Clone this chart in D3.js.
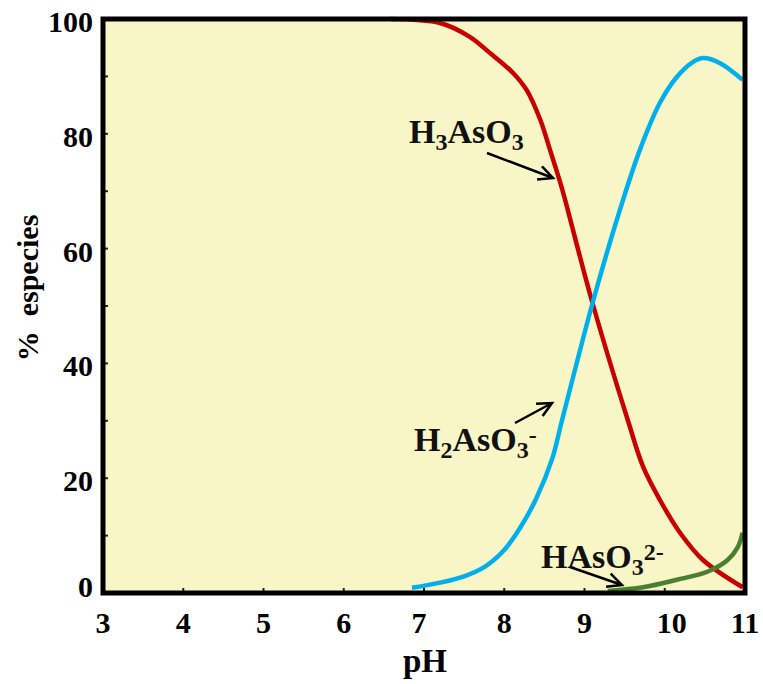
<!DOCTYPE html>
<html><head><meta charset="utf-8">
<script src="https://cdn.jsdelivr.net/npm/d3@7"></script>
<style>body{margin:0;background:#fff}svg{display:block}</style>
</head><body>
<script>
const xTicks = [3,4,5,6,7,8,9,10,11];
const yTicks = [0,20,40,60,80,100];
const yMinor = [10,30,50,70,90];
const h3aso3 = [[6.58,100],[7.2,99.3],[7.57,96.9],[7.82,94.1],[8.11,90.6],[8.28,87.6],[8.45,82.4],[8.57,77.2],[8.7,71.4],[8.76,68.4],[9.09,51],[9.54,30.1],[9.73,22],[9.94,16.2],[10.19,10.5],[10.48,5.7],[10.97,1.0]];
const h2aso3 = [[6.85,0.9],[7.2,1.8],[7.5,2.9],[7.75,4.5],[8.0,7.5],[8.2,11.4],[8.4,16.5],[8.6,23.5],[8.72,30.1],[9.11,51],[9.44,66.7],[9.69,77.2],[9.94,85.4],[10.15,89.9],[10.35,92.5],[10.48,93.2],[10.69,92.3],[10.97,89.4]];
const haso3 = [[9.29,0.35],[9.73,1.0],[10.15,2.3],[10.53,3.7],[10.78,5.7],[10.91,8.0],[10.97,10.5]];

const W=763,H=684;
const svg=d3.select("body").append("svg").attr("width",W).attr("height",H);
const x=d3.scaleLinear().domain([3,11]).range([103,745]);
const y=d3.scaleLinear().domain([0,100]).range([593,19]);
const font="'Liberation Serif','Times New Roman',serif";

svg.append("rect").attr("x",x(3)).attr("y",y(100)).attr("width",x(11)-x(3)).attr("height",y(0)-y(100)).attr("fill","#f8f5c6");

const g=svg.append("g");
const line=d3.line().x(d=>x(d[0])).y(d=>y(d[1])).curve(d3.curveCatmullRom.alpha(0.5));
g.append("path").datum(h3aso3).attr("d",line).attr("fill","none").attr("stroke","#c80000").attr("stroke-width",4.5);
g.append("path").datum(h2aso3).attr("d",line).attr("fill","none").attr("stroke","#00b0ec").attr("stroke-width",4.5);
g.append("path").datum(haso3).attr("d",line).attr("fill","none").attr("stroke","#4a7f2e").attr("stroke-width",4.5);

svg.append("g").selectAll("line").data(yTicks.concat(yMinor)).join("line")
  .attr("x1",x(3)).attr("x2",x(3)+5).attr("y1",d=>y(d)).attr("y2",d=>y(d)).attr("stroke","#222").attr("stroke-width",2);
svg.append("g").selectAll("line").data(xTicks).join("line")
  .attr("x1",d=>x(d)).attr("x2",d=>x(d)).attr("y1",y(0)).attr("y2",y(0)-5).attr("stroke","#222").attr("stroke-width",2);

svg.append("rect").attr("x",x(3)).attr("y",y(100)).attr("width",x(11)-x(3)).attr("height",y(0)-y(100)).attr("fill","none").attr("stroke","#000").attr("stroke-width",5);

svg.append("g").selectAll("text").data(xTicks).join("text")
  .attr("x",d=>x(d)+(d===7?-5:d===10?7:0)).attr("y",633).attr("text-anchor","middle")
  .attr("font-family",font).attr("font-weight","bold").attr("font-size",30).text(d=>d);
svg.append("g").selectAll("text").data(yTicks).join("text")
  .attr("x",93).attr("y",d=>y(d)+(d===0?4:13)).attr("text-anchor","end")
  .attr("font-family",font).attr("font-weight","bold").attr("font-size",30).text(d=>d);

svg.append("text").attr("x",425).attr("y",672).attr("text-anchor","middle")
  .attr("font-family",font).attr("font-weight","bold").attr("font-size",33).text("pH");
svg.append("text").attr("transform","translate(38,288) rotate(-90)").attr("text-anchor","middle")
  .attr("font-family",font).attr("font-weight","bold").attr("font-size",30).attr("xml:space","preserve").text("%  especies");

function label(xp,yp,parts){
  const t=svg.append("text").attr("x",xp).attr("y",yp).attr("font-family",font).attr("font-weight","bold").attr("font-size",34).attr("fill","#111");
  parts.forEach(p=>{
    const ts=t.append("tspan").text(p[0]);
    if(p[1]==="sub") ts.attr("font-size",24).attr("dy",7);
    else if(p[1]==="sup") ts.attr("font-size",24).attr("dy",-15);
    else if(p[1]==="back") ts.attr("dy",-7);
  });
}
label(409,143,[["H"],["3","sub"],["AsO","back"],["3","sub"]]);
label(414,451,[["H"],["2","sub"],["AsO","back"],["3","sub"],["-","sup"]]);
label(541,568,[["HAsO"],["3","sub"],["2-","sup"]]);

function arrow(x1,y1,x2,y2){
  const a=Math.atan2(y2-y1,x2-x1),L=16,s=0.45;
  const p=`M${x1},${y1}L${x2},${y2}M${x2-L*Math.cos(a-s)},${y2-L*Math.sin(a-s)}L${x2},${y2}L${x2-L*Math.cos(a+s)},${y2-L*Math.sin(a+s)}`;
  svg.append("path").attr("d",p).attr("fill","none").attr("stroke","#000").attr("stroke-width",2.5);
}
arrow(487,153,553,178);
arrow(515,423,552,403);
arrow(570,567,622,585);
</script>
</body></html>
